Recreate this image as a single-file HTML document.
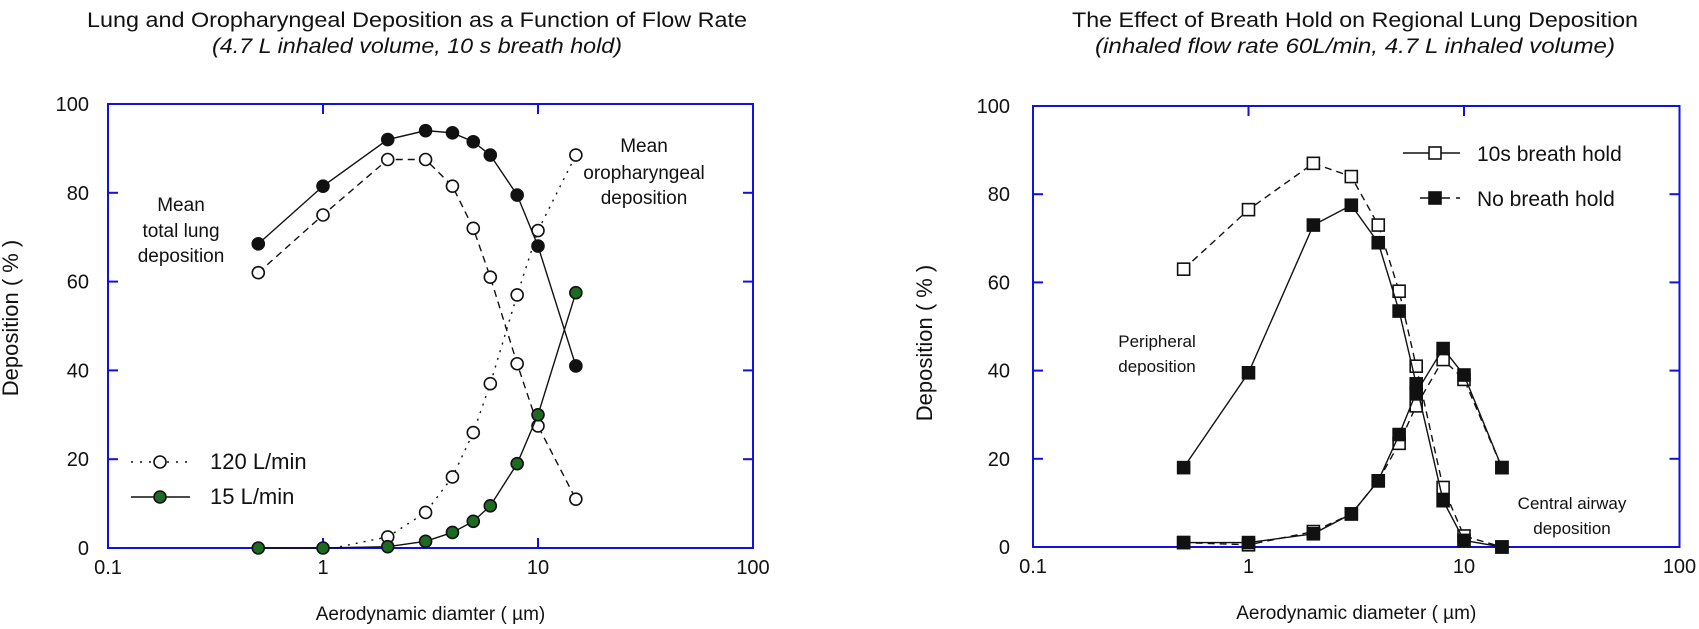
<!DOCTYPE html>
<html><head><meta charset="utf-8"><style>
body{margin:0;background:#fff}
svg{display:block;font-family:"Liberation Sans",sans-serif}
</style></head><body>
<svg id="s" width="1699" height="629" xmlns="http://www.w3.org/2000/svg">
<g font-size="21" text-anchor="middle" fill="#111">
<text x="417" y="27" textLength="660" lengthAdjust="spacingAndGlyphs">Lung  and Oropharyngeal Deposition as a Function of Flow Rate</text>
<text x="417" y="53" font-style="italic" textLength="410" lengthAdjust="spacingAndGlyphs">(4.7 L inhaled volume, 10 s breath hold)</text>
<text x="1355" y="27" textLength="566" lengthAdjust="spacingAndGlyphs">The Effect of Breath Hold on Regional Lung Deposition</text>
<text x="1355" y="53" font-style="italic" textLength="520" lengthAdjust="spacingAndGlyphs">(inhaled flow rate 60L/min, 4.7 L inhaled volume)</text>
</g>
<g id="g"></g>
</svg>
<script>
var g=document.getElementById('g'),h='';
function axes(x0,dec,yt,yb,ylx,ylabx,ylaby,xt){
 var x100=x0+3*dec;
 h+='<rect x="'+x0+'" y="'+yt+'" width="'+(3*dec)+'" height="'+(yb-yt)+'" fill="none" stroke="#1010e0" stroke-width="2"/>';
 for(var i=0;i<=5;i++){var y=yb-(yb-yt)*i/5;
  h+='<line x1="'+x0+'" y1="'+y+'" x2="'+(x0+10)+'" y2="'+y+'" stroke="#1010e0" stroke-width="2"/>';
  h+='<line x1="'+x100+'" y1="'+y+'" x2="'+(x100-10)+'" y2="'+y+'" stroke="#1010e0" stroke-width="2"/>';
  h+='<text x="'+ylx+'" y="'+(y+7)+'" font-size="20" text-anchor="end" fill="#111">'+(i*20)+'</text>';}
 var lab=['0.1','1','10','100'];
 for(var j=0;j<4;j++){var x=x0+j*dec;
  if(j>0&&j<3){h+='<line x1="'+x+'" y1="'+yt+'" x2="'+x+'" y2="'+(yt+10)+'" stroke="#1010e0" stroke-width="2"/>';
  h+='<line x1="'+x+'" y1="'+yb+'" x2="'+x+'" y2="'+(yb-10)+'" stroke="#1010e0" stroke-width="2"/>';}
  h+='<text x="'+x+'" y="'+(yb+26)+'" font-size="20" text-anchor="middle" fill="#111">'+lab[j]+'</text>';}
 h+='<text transform="translate('+ylabx+','+ylaby+') rotate(-90)" font-size="22" text-anchor="middle" fill="#111">Deposition ( % )</text>';
 h+='<text x="'+(x0+1.5*dec)+'" y="'+(yb+72)+'" font-size="19" text-anchor="middle" fill="#111">'+xt+'</text>';
}
function series(X,Y,d,v,dash,mk,fill,skip){
 var pts=[];for(var i=0;i<d.length;i++)pts.push([X(d[i]),Y(v[i])]);
 h+='<polyline points="'+pts.map(function(p){return p.join(',')}).join(' ')+'" fill="none" stroke="#111" stroke-width="1.4" stroke-dasharray="'+dash+'"/>';
 pts.forEach(function(p,i){
  if(skip&&i<skip)return;
  if(mk=='c')h+='<circle cx="'+p[0]+'" cy="'+p[1]+'" r="6" fill="'+fill+'" stroke="#111" stroke-width="1.6"/>';
  else h+='<rect x="'+(p[0]-6)+'" y="'+(p[1]-6)+'" width="12" height="12" fill="'+fill+'" stroke="#111" stroke-width="1.6"/>';});
}
// left
var LX=function(d){return 108+215*Math.log10(d/0.1)},LY=function(v){return 548-4.44*v};
axes(108,215,104,548,89,18,318,'Aerodynamic diamter ( \u00b5m)');
var D=[0.5,1,2,3,4,5,6,8,10,15];
series(LX,LY,D,[62,75,87.5,87.5,81.5,72,61,41.5,27.5,11],'7,5','c','#fff');
series(LX,LY,[1.2,2,3,4,5,6,8,10,15],[0.3,2.5,8,16,26,37,57,71.5,88.5],'2,6','c','#fff',1);
series(LX,LY,D,[68.5,81.5,92,94,93.5,91.5,88.5,79.5,68,41],'','c','#111');
series(LX,LY,D,[0,0,0.3,1.5,3.5,6,9.5,19,30,57.5],'','c','#1d6b22');
// left legend
h+='<line x1="131" y1="462" x2="190" y2="462" stroke="#111" stroke-width="1.6" stroke-dasharray="2,7"/><circle cx="160" cy="462" r="6" fill="#fff" stroke="#111" stroke-width="1.6"/>';
h+='<text x="210" y="469" font-size="22" fill="#111">120 L/min</text>';
h+='<line x1="131" y1="497" x2="190" y2="497" stroke="#111" stroke-width="1.6"/><circle cx="160" cy="497" r="6" fill="#1d6b22" stroke="#111" stroke-width="1.6"/>';
h+='<text x="210" y="504" font-size="22" fill="#111">15 L/min</text>';
h+='<g font-size="19" text-anchor="middle" fill="#111"><text x="181" y="211">Mean</text><text x="181" y="237">total lung</text><text x="181" y="262">deposition</text>';
h+='<text x="644" y="152">Mean</text><text x="644" y="179">oropharyngeal</text><text x="644" y="204">deposition</text></g>';
// right
var RX=function(d){return 1033+215.5*Math.log10(d/0.1)},RY=function(v){return 547-4.41*v};
axes(1033,215.5,106,547,1010,932,343,'Aerodynamic diameter ( \u00b5m)');
series(RX,RY,D,[63,76.5,87,84,73,58,41,13.5,2.5,0],'7,5','s','#fff');
series(RX,RY,D,[1,0.5,3.5,7.5,15,23.5,32,42.5,38,18],'7,5','s','#fff');
series(RX,RY,D,[18,39.5,73,77.5,69,53.5,37,10.5,1.5,0],'','s','#111');
series(RX,RY,D,[1,1,3,7.5,15,25.5,35,45,39,18],'','s','#111');
h+='<line x1="1403" y1="153" x2="1460" y2="153" stroke="#111" stroke-width="1.6"/><rect x="1429" y="147" width="12" height="12" fill="#fff" stroke="#111" stroke-width="1.6"/>';
h+='<text x="1477" y="161" font-size="21" fill="#111">10s breath hold</text>';
h+='<line x1="1420" y1="198" x2="1460" y2="198" stroke="#111" stroke-width="1.6" stroke-dasharray="12,6"/><rect x="1429" y="192" width="12" height="12" fill="#111" stroke="#111" stroke-width="1.6"/>';
h+='<text x="1477" y="206" font-size="21" fill="#111">No breath hold</text>';
h+='<g font-size="17" text-anchor="middle" fill="#111"><text x="1157" y="347">Peripheral</text><text x="1157" y="372">deposition</text>';
h+='<text x="1572" y="509">Central airway</text><text x="1572" y="534">deposition</text></g>';
g.innerHTML=h;
</script>
</body></html>
